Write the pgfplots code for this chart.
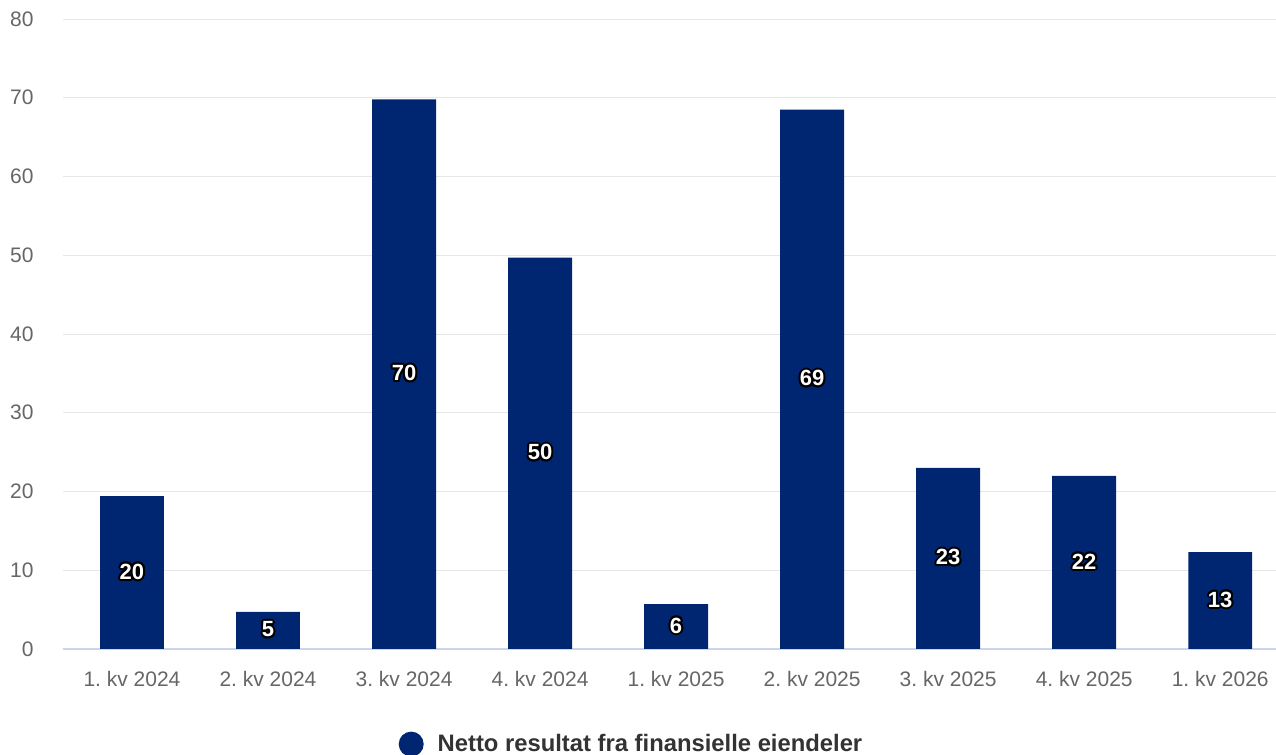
\documentclass[border=0pt]{standalone}
\usepackage{pgfplots}
\pgfplotsset{compat=1.18}
\usepackage{fontspec}
\setmainfont{Liberation Sans}
\usepackage{contour}
\contourlength{1pt}
\contournumber{16}

\definecolor{navy}{HTML}{002672}
\definecolor{gridgray}{HTML}{E6E6E6}
\definecolor{basecol}{HTML}{CCD6EB}
\definecolor{labgray}{HTML}{666666}
\definecolor{leggray}{HTML}{333333}

\begin{document}
\frenchspacing
\begin{tikzpicture}
\useasboundingbox (0,0) rectangle (638pt,377.5pt);
\begin{axis}[
    at={(31.5pt,53pt)}, anchor=south west,
    scale only axis,
    width=606.5pt, height=315pt,
    ybar, bar width=0.47,
    xmin=-0.507, xmax=8.41,
    ymin=0, ymax=80,
    ytick={10,20,...,80},
    extra y ticks={0},
    extra y tick style={grid style={basecol, line width=0.9pt}},
    ymajorgrids,
    grid style={gridgray, line width=0.5pt},
    xtick={0,...,8},
    xticklabels={1. kv 2024, 2. kv 2024, 3. kv 2024, 4. kv 2024, 1. kv 2025, 2. kv 2025, 3. kv 2025, 4. kv 2025, 1. kv 2026},
    axis line style={draw=none},
    major tick length=0pt,
    tick style={draw=none},
    /pgf/number format/assume math mode=true,
    tick label style={font=\fontsize{10.5}{12}\selectfont, text=labgray, inner sep=0pt},
    y tick label style={anchor=east, xshift=-14.5pt},
    x tick label style={anchor=north, yshift=-11pt},
    legend style={draw=none, at={(0.4695,-0.151)}, anchor=center,
        font=\bfseries\fontsize{11.9}{14}\selectfont, text=leggray,
        /tikz/every odd column/.append style={column sep=5pt}},
    legend image code/.code={\fill[navy] (0pt,0pt) circle (6.25pt);},
]
\addplot[fill=navy, draw=none,
    point meta=explicit symbolic,
    nodes near coords={\contour{black}{\pgfplotspointmeta}},
    visualization depends on={rawy \as \rawy},
    every node near coord/.append style={anchor=center, text=white,
        font=\bfseries\fontsize{11}{13}\selectfont,
        shift={(axis direction cs:0,-\rawy/2)}},
] coordinates {
    (0,19.4) [20]
    (1,4.7) [5]
    (2,69.8) [70]
    (3,49.7) [50]
    (4,5.7) [6]
    (5,68.5) [69]
    (6,23.0) [23]
    (7,22.0) [22]
    (8,12.3) [13]
};
\addlegendentry{Netto resultat fra finansielle eiendeler}
\end{axis}
\end{tikzpicture}
\end{document}
